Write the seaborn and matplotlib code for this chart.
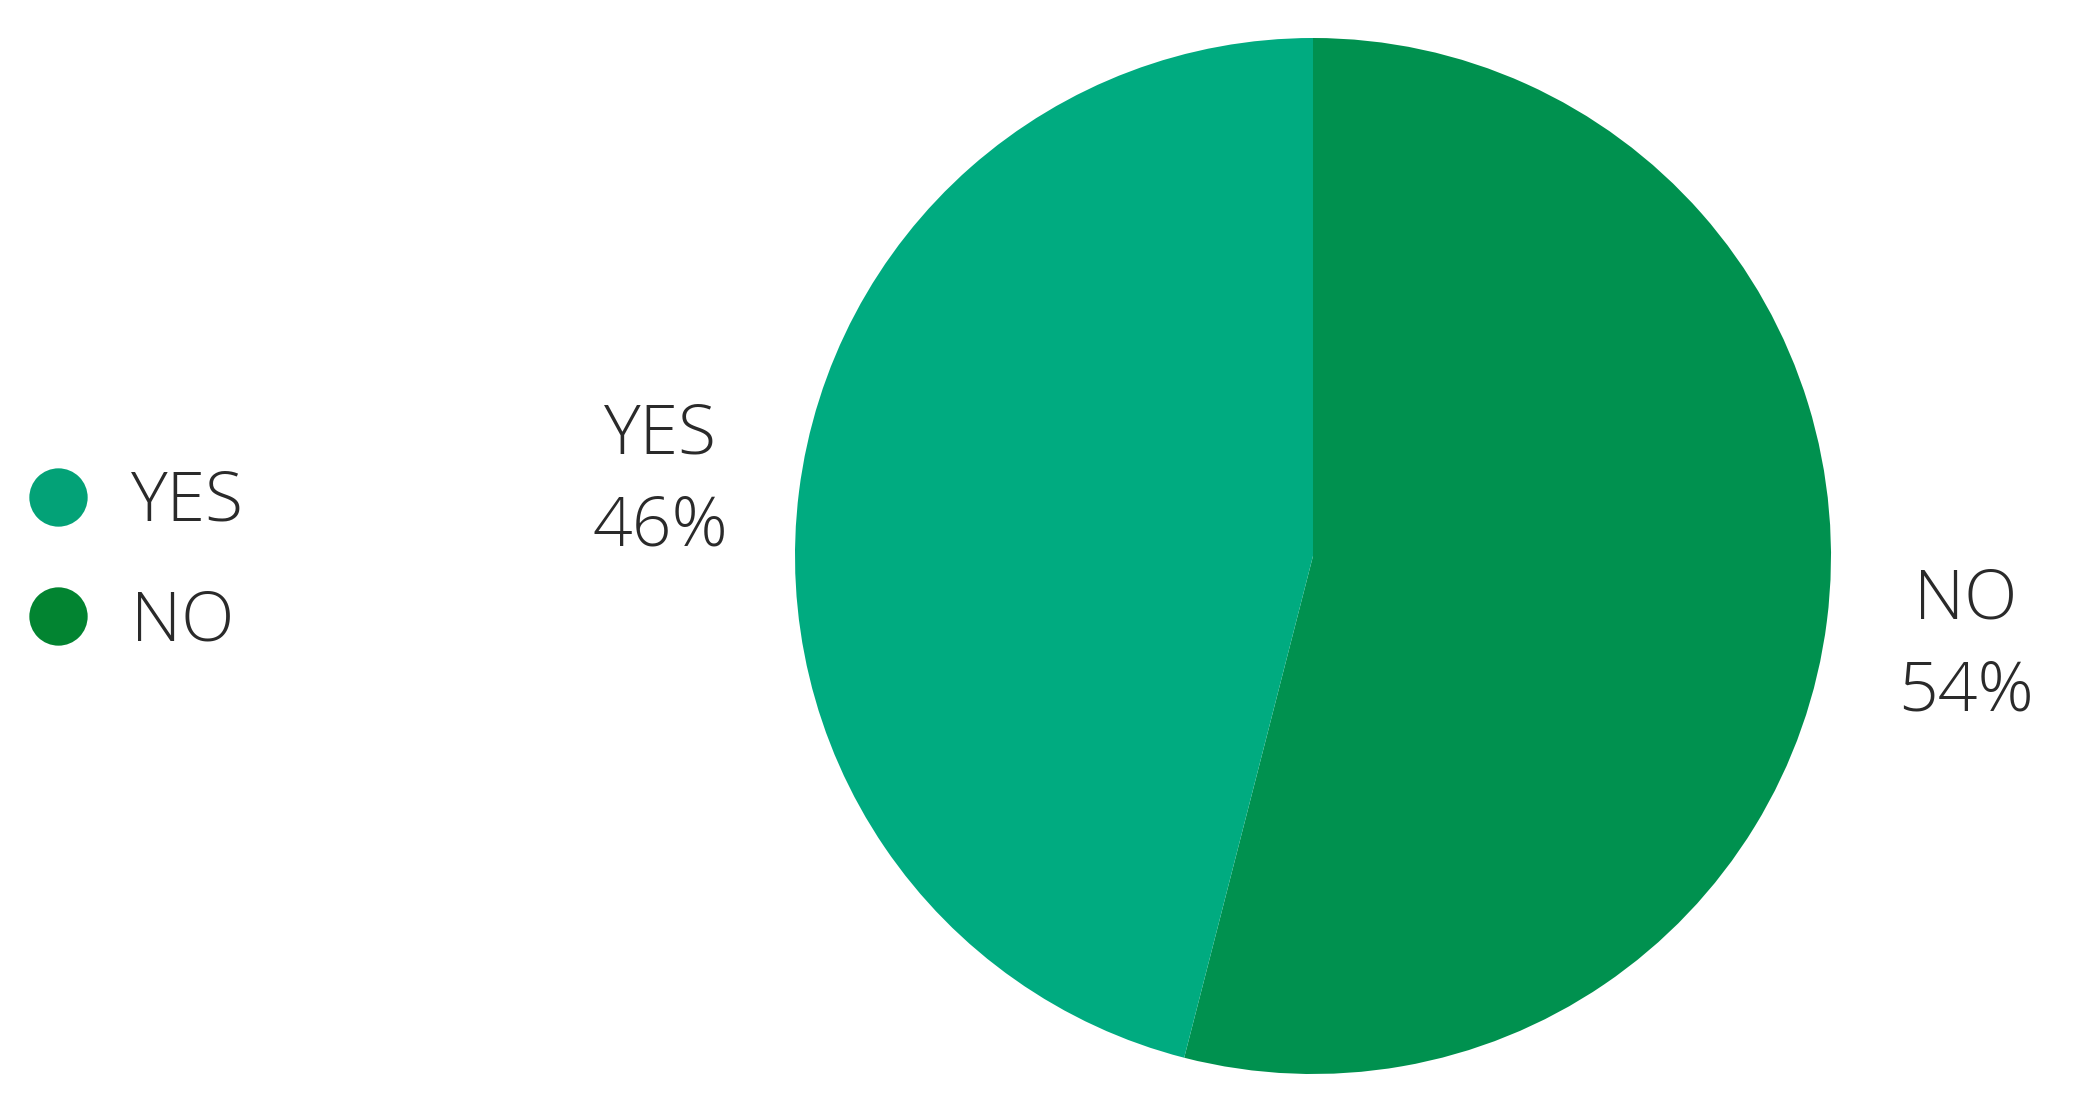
import matplotlib
matplotlib.use("Agg")
import matplotlib.pyplot as plt
from matplotlib.lines import Line2D
import seaborn as sns

labels = ["NO", "YES"]
shares = [54, 46]
slice_colors = ["#00914f", "#00ab80"]
legend_order = ["YES", "NO"]
legend_colors = ["#03a277", "#028431"]

sns.set_theme(style="white")
plt.rcParams["font.family"] = ["Open Sans", "DejaVu Sans"]

W, H = 2077, 1113
fig = plt.figure(figsize=(W / 100, H / 100), dpi=100)
cx, cy, r = 1313, 556, 518
ax = fig.add_axes([(cx - r) / W, (H - cy - r) / H, 2 * r / W, 2 * r / H])

wedges, texts = ax.pie(
    shares,
    labels=[f"{l}\n{s}%" for l, s in zip(labels, shares)],
    colors=slice_colors,
    startangle=90,
    counterclock=False,
    labeldistance=1.27,
    wedgeprops=dict(linewidth=0),
    textprops=dict(fontsize=50, fontweight="light", color="#2a2a2a",
                   linespacing=1.46),
)
for t in texts:
    t.set_horizontalalignment("center")
    t.set_verticalalignment("center")
    x, y = t.get_position()
    t.set_position((x, y - 0.016))
ax.set_xlim(-1, 1)
ax.set_ylim(-1, 1)
ax.set_aspect("equal")

handles = [Line2D([], [], marker="o", linestyle="none", markersize=42,
                  markerfacecolor=c, markeredgewidth=0) for c in legend_colors]
fig.legend(handles, legend_order, loc="center left",
           bbox_to_anchor=(23 / W, 0.5 - 6 / H), frameon=False, borderpad=0,
           borderaxespad=0,
           prop=dict(size=50, weight="light"), labelcolor="#2a2a2a",
           handletextpad=0.55, labelspacing=0.74, handlelength=1.0)

fig.savefig("out.png", dpi=100, facecolor="white")
